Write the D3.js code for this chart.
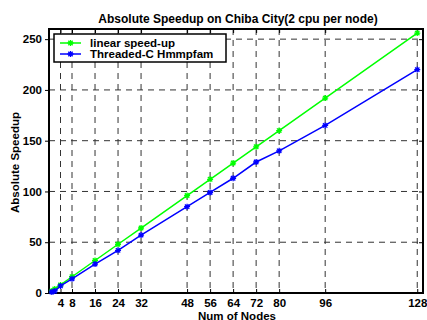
<!DOCTYPE html>
<html>
<head>
<meta charset="utf-8">
<script src="https://cdn.jsdelivr.net/npm/d3@7"></script>
<style>
  body { margin: 0; background: #fff; }
  text { font-family: "Liberation Sans", Arial, sans-serif; font-weight: bold; }
</style>
</head>
<body>
<div id="chart"></div>
<script>
const nodes = [1, 2, 4, 8, 16, 24, 32, 48, 56, 64, 72, 80, 96, 128]
const linearSpeedup = [2, 4, 8, 16, 32, 48, 64, 96, 112, 128, 144, 160, 192, 256]
const threadedC = [1, 2, 7, 14, 28.5, 42, 57, 85, 99, 113, 129, 140, 165, 220]
const xTicks = [4, 8, 16, 24, 32, 48, 56, 64, 72, 80, 96, 128]
const yTicks = [0, 50, 100, 150, 200, 250]
const seriesNames = ["linear speed-up", "Threaded-C Hmmpfam"]

const width = 427
const height = 320
const margin = {top: 29, right: 4, bottom: 27, left: 49}
const w = width - margin.left - margin.right
const h = height - margin.top - margin.bottom

const svg = d3.select("#chart").append("svg")
    .attr("width", width)
    .attr("height", height)

const g = svg.append("g")
    .attr("transform", "translate(" + margin.left + "," + margin.top + ")")

const x = d3.scaleLinear().domain([0, 130]).range([0, w])
const y = d3.scaleLinear().domain([0, 260]).range([h, 0])

// dashed grid
g.append("g").selectAll("line")
  .data(xTicks).join("line")
    .attr("x1", d => x(d)).attr("x2", d => x(d))
    .attr("y1", 0).attr("y2", h)
    .attr("stroke", "#333").attr("stroke-width", 1)
    .attr("stroke-dasharray", "6,5")
g.append("g").selectAll("line")
  .data(yTicks).join("line")
    .attr("x1", 0).attr("x2", w)
    .attr("y1", d => y(d)).attr("y2", d => y(d))
    .attr("stroke", "#333").attr("stroke-width", 1)
    .attr("stroke-dasharray", "6,5")

// axes with inward ticks
const xAxis = g.append("g")
    .attr("transform", "translate(0," + h + ")")
    .call(d3.axisBottom(x).tickValues(xTicks).tickSize(-4).tickPadding(6))
const xTop = g.append("g")
    .call(d3.axisTop(x).tickValues(xTicks).tickSize(-4).tickFormat(""))
const yAxis = g.append("g")
    .call(d3.axisLeft(y).tickValues(yTicks).tickSize(4).tickPadding(3))
const yRight = g.append("g")
    .attr("transform", "translate(" + w + ",0)")
    .call(d3.axisRight(y).tickValues(yTicks).tickSize(-4).tickFormat(""))

// y-axis ticks go outward on the left in the reference
yAxis.selectAll(".tick line").attr("x2", -4)
g.selectAll(".domain").remove()
g.selectAll(".tick line").attr("stroke", "#000").attr("stroke-width", 1)
g.selectAll(".tick text").attr("font-size", 11.5).attr("fill", "#000")
  .style("font-family", "'Liberation Sans', Arial, sans-serif").style("font-weight", "bold")

g.append("rect")
    .attr("width", w).attr("height", h)
    .attr("fill", "none").attr("stroke", "#000").attr("stroke-width", 2)

// lines
const lineGen = vals => d3.line()
    .x((d, i) => x(nodes[i]))
    .y(d => y(d))(vals)

const series = [
  {name: seriesNames[0], values: linearSpeedup, color: "#00ff00"},
  {name: seriesNames[1], values: threadedC, color: "#0000ff"}
]

const star = (sel, color) => {
  sel.append("path")
    .attr("d", "M-3,0H3M0,-3V3M-2.2,-2.2L2.2,2.2M-2.2,2.2L2.2,-2.2")
    .attr("stroke", color).attr("stroke-width", 1.3).attr("fill", "none")
}

series.forEach(s => {
  g.append("path")
    .attr("d", lineGen(s.values))
    .attr("fill", "none")
    .attr("stroke", s.color)
    .attr("stroke-width", 1.5)
  s.values.forEach((v, i) => {
    const m = g.append("g").attr("transform", "translate(" + x(nodes[i]) + "," + y(v) + ")")
    star(m, s.color)
  })
})

// legend
const legend = g.append("g").attr("transform", "translate(5,5)")
legend.append("rect")
    .attr("width", 172).attr("height", 28)
    .attr("fill", "#fff").attr("stroke", "#000").attr("stroke-width", 1.5)
series.forEach((s, i) => {
  const ly = 9 + i * 11
  legend.append("line")
    .attr("x1", 6).attr("x2", 27).attr("y1", ly).attr("y2", ly)
    .attr("stroke", s.color).attr("stroke-width", 1.5)
  star(legend.append("g").attr("transform", "translate(16.5," + ly + ")"), s.color)
  legend.append("text")
    .attr("x", 36).attr("y", ly + 4)
    .attr("font-size", 11.5)
    .text(s.name)
})

// title and labels
svg.append("text")
    .attr("x", 238).attr("y", 23)
    .attr("text-anchor", "middle").attr("font-size", 12)
    .text("Absolute Speedup on Chiba City(2 cpu per node)")
svg.append("text")
    .attr("x", 237).attr("y", 319.5)
    .attr("text-anchor", "middle").attr("font-size", 11.5)
    .text("Num of Nodes")
svg.append("text")
    .attr("transform", "translate(18.5,162.5) rotate(-90)")
    .attr("text-anchor", "middle").attr("font-size", 11.5)
    .text("Absolute Speedup")
</script>
</body>
</html>
